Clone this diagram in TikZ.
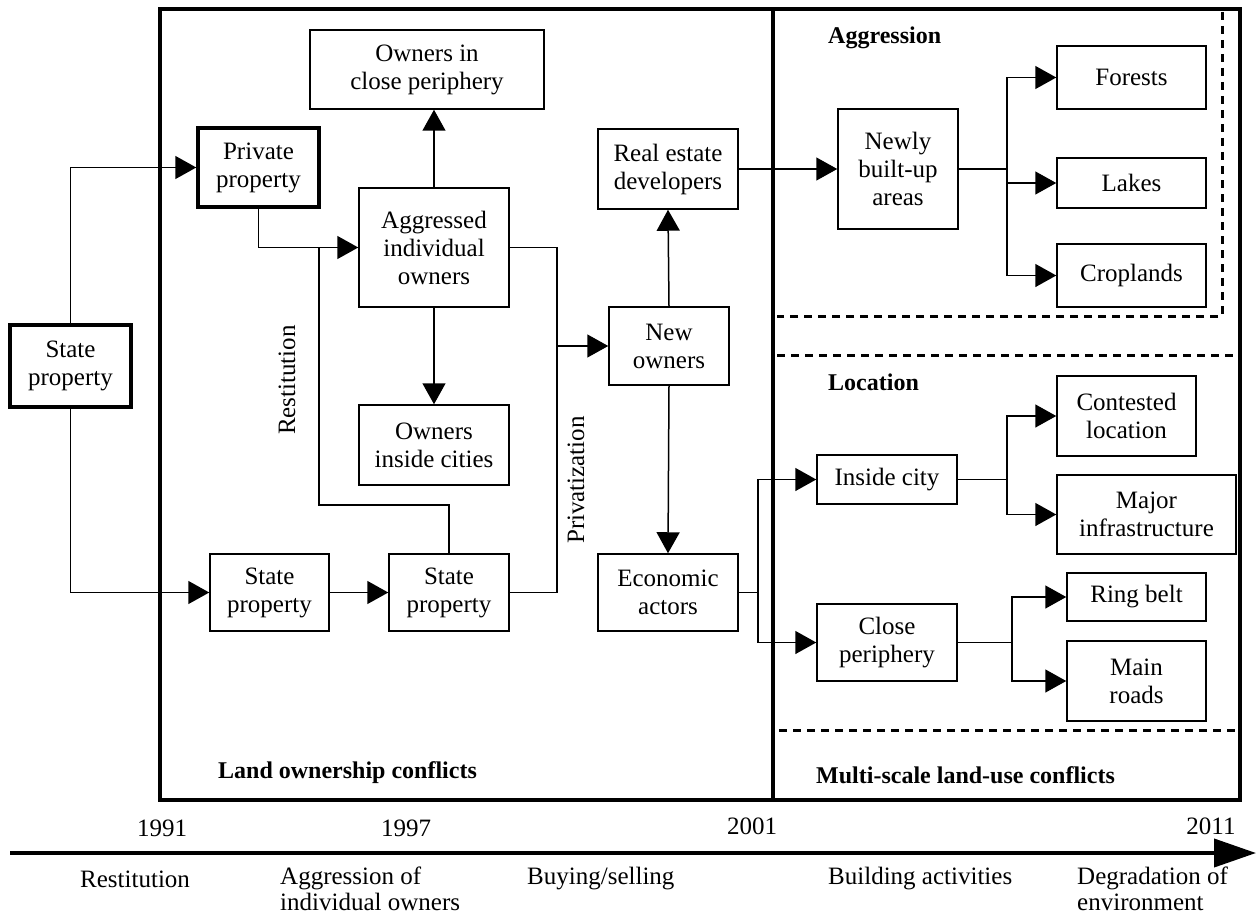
\documentclass[tikz,border=0pt]{standalone}
\usepackage{fontspec}
\setmainfont{Liberation Serif}
\usetikzlibrary{arrows.meta}
\newcommand\figfont{\fontsize{25}{28}\selectfont}
\newcommand\figtl{\fontsize{25}{26}\selectfont}
\newcommand\figbold{\fontsize{24}{27}\selectfont\bfseries}
\begin{document}
\begin{tikzpicture}[x=1pt,y=-1pt,
  box/.style={draw, line width=1.5pt, align=center, inner sep=0pt, font=\figfont},
  thickbox/.style={box, line width=3.5pt},
  conn/.style={line width=1.5pt},
  arr/.style={conn, -{Triangle[length=21pt,width=23pt]}},
  frame/.style={line width=3.5pt},
  dashline/.style={line width=3pt, dash pattern=on 8pt off 6pt},
  lbl/.style={inner sep=0pt, font=\figfont},
  tlbl/.style={inner sep=0pt, font=\figtl},
  blbl/.style={inner sep=0pt, font=\figbold, anchor=west}]
\useasboundingbox (0,0) rectangle (1258,915);
% frames
\draw[frame] (160,9) rectangle (1240,800);
\draw[frame] (773,9) -- (773,800);
\draw[dashline] (1222,12) -- (1222,316) -- (777,316);
\draw[dashline] (777,355) -- (1238,355);
\draw[dashline] (779,730) -- (1236,730);
% nodes
\node[thickbox, minimum width=121pt, minimum height=82pt] (sp) at (70.5,366) {State\\property};
\node[thickbox, minimum width=121pt, minimum height=79pt] (priv) at (258.5,167.5) {Private\\property};
\node[box, minimum width=234pt, minimum height=79pt] (ocp) at (427,69.5) {Owners in\\close periphery};
\node[box, minimum width=150pt, minimum height=119pt] (agg) at (434,247.5) {Aggressed\\individual\\owners};
\node[box, minimum width=150pt, minimum height=80pt] (oic) at (434,445) {Owners\\inside cities};
\node[box, minimum width=119pt, minimum height=77pt] (sp1) at (269.5,592.5) {State\\property};
\node[box, minimum width=120pt, minimum height=77pt] (sp2) at (449,592.5) {State\\property};
\node[box, minimum width=140pt, minimum height=80pt] (red) at (668,169) {Real estate\\developers};
\node[box, minimum width=120pt, minimum height=78pt] (nwo) at (669,346) {New\\owners};
\node[box, minimum width=140pt, minimum height=77pt] (eco) at (668,592.5) {Economic\\actors};
\node[box, minimum width=120pt, minimum height=120pt] (nba) at (898,169) {Newly\\built-up\\areas};
\node[box, minimum width=149pt, minimum height=63pt] (for) at (1131.5,77.5) {Forests};
\node[box, minimum width=149pt, minimum height=50pt] (lak) at (1131.5,183) {Lakes};
\node[box, minimum width=149pt, minimum height=63pt] (cro) at (1131.5,275.5) {Croplands};
\node[box, minimum width=140pt, minimum height=49pt] (inc) at (887,479.5) {Inside city};
\node[box, minimum width=139pt, minimum height=80pt] (con) at (1126.5,416) {Contested\\location};
\node[box, minimum width=179pt, minimum height=79pt] (maj) at (1146.5,514.5) {Major\\infrastructure};
\node[box, minimum width=140pt, minimum height=77pt] (clp) at (887,642.5) {Close\\periphery};
\node[box, minimum width=139pt, minimum height=48pt] (rin) at (1136.5,597) {Ring belt};
\node[box, minimum width=139pt, minimum height=80pt] (mai) at (1136.5,681) {Main\\roads};
% junction coordinates
\coordinate (rj) at (319,505);
\coordinate (pj) at (557,346);
\coordinate (nj) at (1007,169);
\coordinate (ej) at (758,592.5);
\coordinate (ij) at (1007,479.5);
\coordinate (cj) at (1012,642.5);
% connectors
\draw[arr] (sp.north) |- (priv.west);
\draw[arr] (sp.south) |- (sp1.west);
\draw[arr] (priv.south) |- (agg.west);
\draw[conn] (sp2.north) |- (rj) -- (rj |- agg.west);
\draw[arr] (agg.north) -- (agg.north |- ocp.south);
\draw[arr] (agg.south) -- (oic.north);
\draw[arr] (sp1.east) -- (sp2.west);
\draw[conn] (agg.east) -| (pj) |- (sp2.east);
\draw[arr] (pj) -- (nwo.west);
\draw[arr] (nwo.north) -- (red.south);
\draw[arr] (nwo.south) -- (eco.north);
\draw[arr] (red.east) -- (nba.west);
\draw[conn] (nba.east) -- (nj);
\draw[arr] (nj) |- (for.west);
\draw[arr] (nj |- lak.west) -- (lak.west);
\draw[arr] (nj) |- (cro.west);
\draw[conn] (eco.east) -- (ej);
\draw[arr] (ej) |- (inc.west);
\draw[arr] (ej) |- (clp.west);
\draw[conn] (inc.east) -- (ij);
\draw[arr] (ij) |- (con.west);
\draw[arr] (ij) |- (maj.west);
\draw[conn] (clp.east) -- (cj);
\draw[arr] (cj) |- (rin.west);
\draw[arr] (cj) |- (mai.west);
% rotated labels
\node[lbl, rotate=90] (lres) at (287,380) {Restitution};
\node[lbl, rotate=90] (lpri) at (576,480) {Privatization};
% section labels
\node[blbl] (lagg) at (828,38) {Aggression};
\node[blbl] (lloc) at (828,382) {Location};
\node[blbl] (lmsc) at (816,775) {Multi-scale land-use conflicts};
\node[blbl] (llan) at (218,773) {Land ownership conflicts};
% timeline
\coordinate (t0) at (10,853);
\coordinate (t1) at (1256,853);
\draw[line width=4pt, -{Triangle[length=42pt,width=28pt]}] (t0) -- (t1);
\node[tlbl] (y1) at (162,828) {1991};
\node[tlbl] (y2) at (406,828) {1997};
\node[tlbl] (y3) at (752,826) {2001};
\node[tlbl] (y4) at (1211,826) {2011};
\node[tlbl, anchor=west] (e1) at (80,879) {Restitution};
\node[tlbl, anchor=west, align=left] (e2) at (280,889) {Aggression of\\individual owners};
\node[tlbl, anchor=west] (e3) at (527,879) {Buying/selling};
\node[tlbl, anchor=west] (e4) at (828,879) {Building activities};
\node[tlbl, anchor=west, align=left] (e5) at (1077,889) {Degradation of\\environment};
\end{tikzpicture}
\end{document}
